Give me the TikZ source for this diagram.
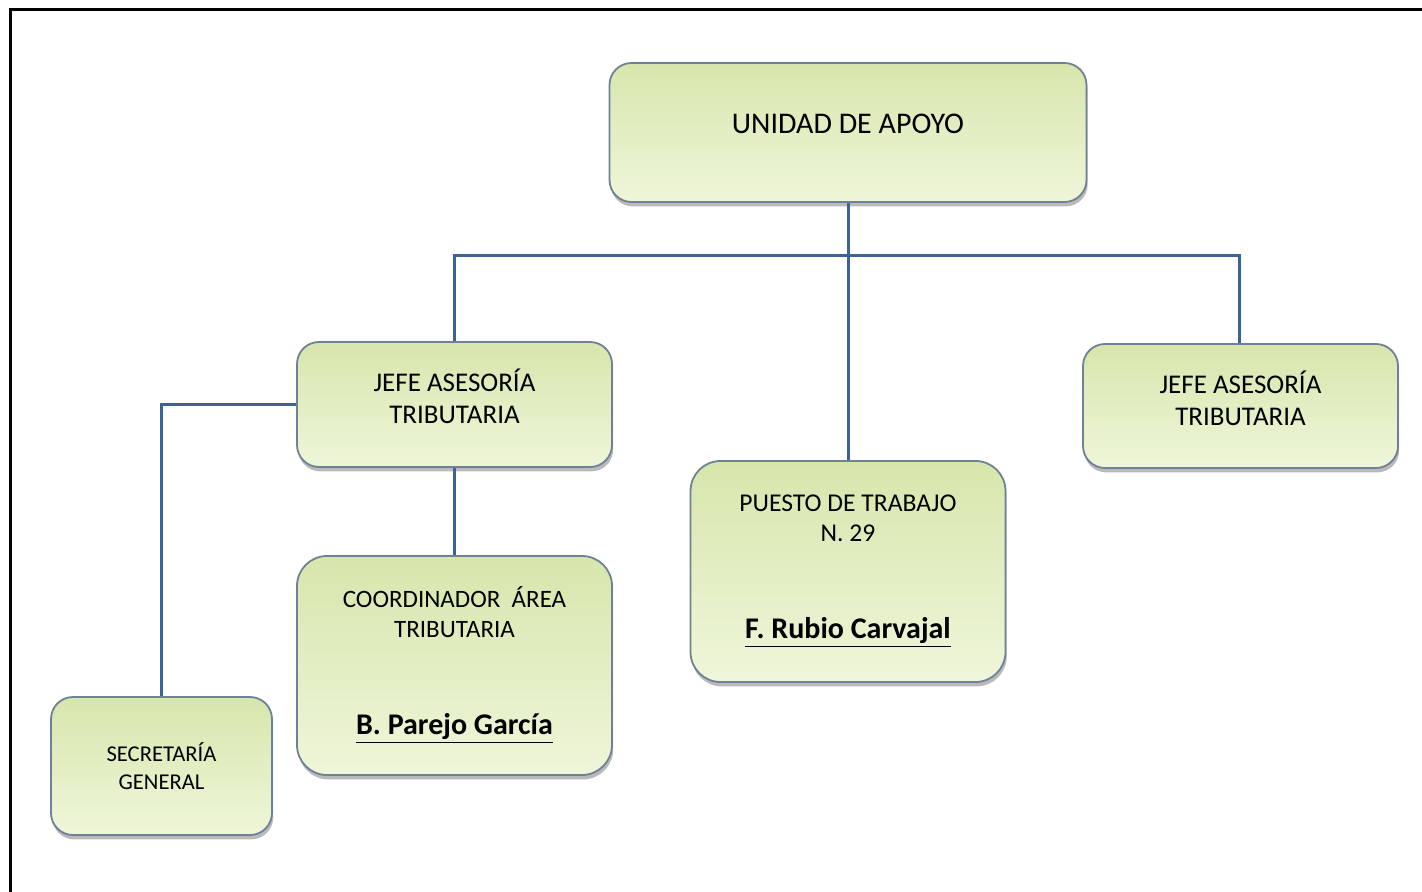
\documentclass[tikz,border=0pt]{standalone}
\usepackage{fontspec}
\setmainfont{Carlito}
\usepackage{tikz}
\usetikzlibrary{shadows}
\tikzstyle{chart} = [x = 0.5pt, y = -0.5pt]
\definecolor{lineColor}{HTML}{3A6498}
\definecolor{boxBorder}{HTML}{6E8196}
\definecolor{boxTop}{HTML}{D7E6AC}
\definecolor{boxBottom}{HTML}{EFF6DA}
\tikzstyle{unitBox} = [draw=boxBorder, line width=0.9pt, top color=boxTop, bottom color=boxBottom, rounded corners = 11pt, align=center, inner sep=0pt, drop shadow={shadow xshift=0.6pt, shadow yshift=-2.2pt, opacity=0.45, fill=black!60}]
\tikzstyle{orgLine} = [color=lineColor, line width=1.5pt]
\tikzstyle{frameLine} = [color=black, line width=1.5pt]
\newcommand{\personName}[1]{{\fontsize{15}{17}\selectfont\textbf{\underline{#1}}}}

\begin{document}
\begin{tikzpicture}[chart]
  \useasboundingbox (0,0) rectangle (1422,892);
  \draw [frameLine] (10,892) -- (10,10) -- (1422,10);

  % boxes
  \node [unitBox, minimum width=238.5pt, minimum height=69.5pt, font=\fontsize{15}{18}\selectfont]
    (unidad) at (848,132.5) {UNIDAD DE APOYO\\[-9pt]};
  \node [unitBox, minimum width=157.5pt, minimum height=62.5pt, font=\fontsize{13.5}{16}\selectfont]
    (jefeL) at (454.5,404.5) {JEFE ASESORÍA\\TRIBUTARIA\\[-8pt]};
  \node [unitBox, minimum width=157.5pt, minimum height=62pt, font=\fontsize{13.5}{16}\selectfont]
    (jefeR) at (1240.5,406) {JEFE ASESORÍA\\TRIBUTARIA\\[-8pt]};
  \node [unitBox, minimum width=157.5pt, minimum height=110.5pt, rounded corners=15pt, font=\fontsize{12.8}{15}\selectfont]
    (puesto) at (848,571.5) {PUESTO DE TRABAJO\\N. 29\\[33.5pt]\personName{F. Rubio Carvajal}};
  \node [unitBox, minimum width=157.5pt, minimum height=109.5pt, rounded corners=15pt, font=\fontsize{12.5}{15}\selectfont]
    (coord) at (454.5,665.5) {COORDINADOR\ \ ÁREA\\TRIBUTARIA\\[33.5pt]\personName{B. Parejo García}};
  \node [unitBox, minimum width=110.5pt, minimum height=69pt, font=\fontsize{11.3}{14}\selectfont]
    (secre) at (161.5,766) {SECRETARÍA\\GENERAL};

  % connectors
  \coordinate (barL) at (454.5,256);
  \coordinate (barR) at (1239,256);
  \draw [orgLine] (unidad.south) -- (puesto.north);
  \draw [orgLine] (jefeL.north) -- (barL) -- (barR) -- (jefeR.north -| barR);
  \draw [orgLine] (jefeL.south) -- (coord.north);
  \draw [orgLine] (jefeL.west) -| (secre.north);
\end{tikzpicture}
\end{document}
